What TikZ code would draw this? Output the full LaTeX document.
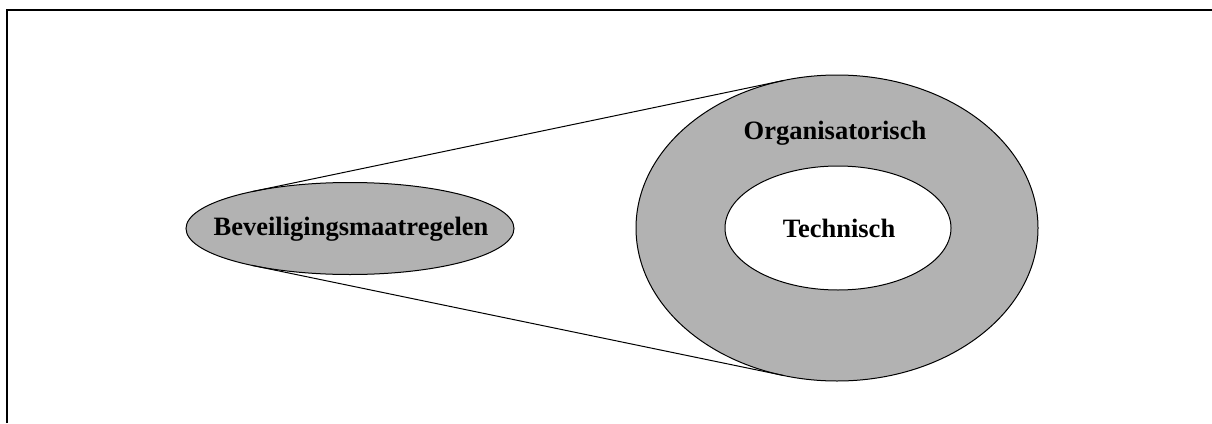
\documentclass[tikz,border=0pt]{standalone}
\usepackage{fontspec}
\setmainfont{Liberation Serif}
\usetikzlibrary{shapes.geometric,calc}
\begin{document}
\begin{tikzpicture}[x=1pt,y=-1pt,
  label/.style={font=\fontsize{26.5}{30}\selectfont\bfseries, inner sep=0pt},
  oval/.style={ellipse, draw=black, line width=1pt, inner sep=0pt, outer sep=0pt},
  edge/.style={draw=black, line width=1pt},
  frameline/.style={draw=black, line width=1.4pt}]
  \useasboundingbox (0,0) rectangle (1212,423);
  % frame
  \coordinate (fa) at (7,423);
  \coordinate (fb) at (7,10);
  \coordinate (fc) at (1212,10);
  \draw[frameline] (fa) -- (fb) -- (fc);
  % outer and inner rings on the right
  \node[oval, fill=black!30, minimum width=402pt, minimum height=306pt] (outer) at (837,228) {};
  \node[oval, fill=white, minimum width=226pt, minimum height=124pt] (inner) at (838,228) {};
  % small ellipse on the left
  \node[oval, fill=black!30, minimum width=328pt, minimum height=92pt] (small) at (350,228.5) {};
  % tangent points
  \coordinate (s1) at ($(small.center)+({164*cos(126.7)},{-46*sin(126.7)})$);
  \coordinate (s2) at ($(small.center)+({164*cos(126.7)},{46*sin(126.7)})$);
  \coordinate (b1) at ($(outer.center)+({201*cos(105.4)},{-153*sin(105.4)})$);
  \coordinate (b2) at ($(outer.center)+({201*cos(105.4)},{153*sin(105.4)})$);
  \draw[edge] (s1) -- (b1);
  \draw[edge] (s2) -- (b2);
  % labels
  \node[label] (bev) at (351,229) {Beveiligingsmaatregelen};
  \node[label] (org) at (835,133) {Organisatorisch};
  \node[label] (tec) at (839,228) {Technisch};
\end{tikzpicture}
\end{document}
